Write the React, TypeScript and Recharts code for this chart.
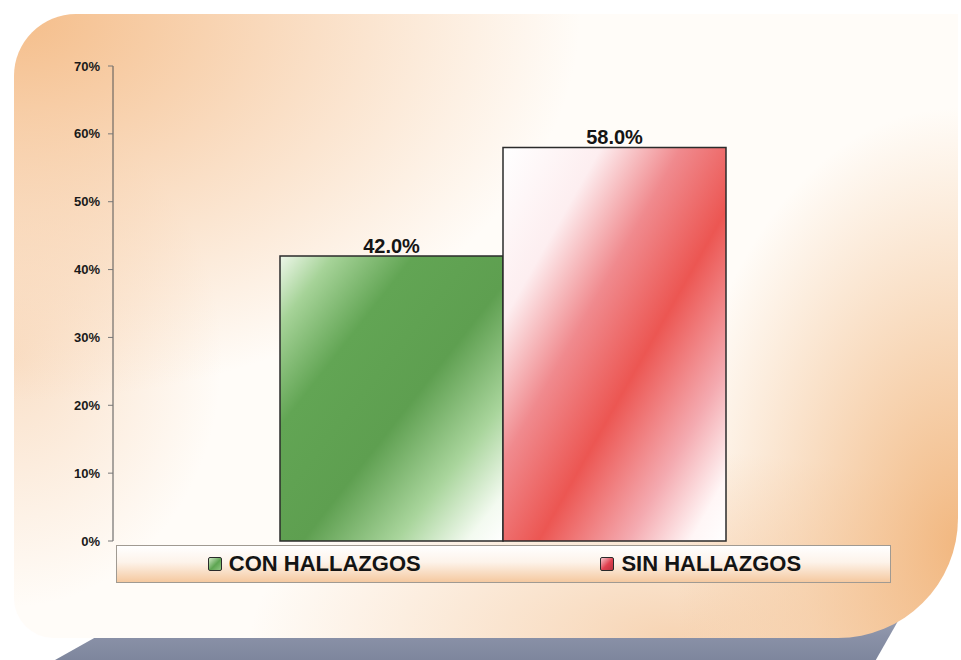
import { BarChart, Bar, XAxis, YAxis, Legend, LabelList } from 'recharts'

// values
const categories = ['Resultado']
const seriesNames = ['CON HALLAZGOS', 'SIN HALLAZGOS']
const conHallazgos = [42.0]
const sinHallazgos = [58.0]
const yTicks = [0, 10, 20, 30, 40, 50, 60, 70]

const data = categories.map((name, i) => ({
  name,
  con: conHallazgos[i],
  sin: sinHallazgos[i],
}))

const FONT = '"Liberation Sans", Arial, Helvetica, sans-serif'

const legendSwatches = [
  'linear-gradient(135deg, #cfe8c4 0%, #5ea552 55%, #8fc782 100%)',
  'linear-gradient(135deg, #f6c9cf 0%, #e0404f 55%, #b8323f 100%)',
]

const ChartLegend = () => (
  <div
    style={{
      width: '100%',
      height: '100%',
      boxSizing: 'border-box',
      border: '1px solid #a09a92',
      background: 'linear-gradient(to bottom, #ffffff 0%, #fdf3ea 45%, #f5c9a0 100%)',
      display: 'flex',
      alignItems: 'center',
    }}
  >
    {seriesNames.map((s, i) => (
      <div key={s} style={{ flex: 1, display: 'flex', justifyContent: 'center', alignItems: 'center', paddingLeft: i === 0 ? 8 : 8 }}>
        <span
          style={{
            display: 'inline-block',
            width: 12,
            height: 12,
            border: '1.5px solid #2a2a2a',
            borderRadius: 2,
            background: legendSwatches[i],
            marginRight: 7,
          }}
        />
        <span style={{ fontFamily: FONT, fontWeight: 'bold', fontSize: 22, color: '#141414' }}>{s}</span>
      </div>
    ))}
  </div>
)

export default function App() {
  return (
    <div style={{ position: 'absolute', left: 0, top: 0, width: 961, height: 660, overflow: 'hidden', background: '#ffffff' }}>
      {/* grey shadow strip under the card */}
      <div
        style={{
          position: 'absolute',
          left: 55,
          top: 600,
          width: 855,
          height: 60,
          background: 'linear-gradient(to bottom, #a3a9bb 0%, #8a91a7 60%, #7e869d 100%)',
          clipPath: 'polygon(5% 60%, 100% 0%, 96% 100%, 0% 100%)',
        }}
      />
      {/* scanned card */}
      <div
        style={{
          position: 'absolute',
          left: 14,
          top: 14,
          width: 944,
          height: 624,
          borderRadius: '62px 0 120px 40px',
          background: [
            'radial-gradient(ellipse 60% 62% at 0% 0%, rgba(244,186,132,0.95) 0%, rgba(246,200,158,0.6) 50%, rgba(250,225,200,0) 100%)',
            'radial-gradient(ellipse 30% 70% at 100% 85%, rgba(241,180,122,0.95) 0%, rgba(244,196,150,0.55) 55%, rgba(250,225,200,0) 100%)',
            'radial-gradient(ellipse 45% 30% at 70% 100%, rgba(243,195,150,0.7) 0%, rgba(250,225,200,0) 100%)',
            'radial-gradient(ellipse 22% 40% at 0% 55%, rgba(246,205,168,0.6) 0%, rgba(250,225,200,0) 100%)',
            '#fffcf8',
          ].join(', '),
        }}
      />
      <div style={{ position: 'absolute', left: 0, top: 0 }}>
        <BarChart
          width={961}
          height={660}
          data={data}
          margin={{ top: 66, right: 68, bottom: 119, left: 0 }}
          barCategoryGap={167}
          barGap={0}
        >
          <defs>
            <linearGradient id="gradCon" x1="0" y1="0" x2="1" y2="1">
              <stop offset="0%" stopColor="#eef7ea" />
              <stop offset="12%" stopColor="#a6d398" />
              <stop offset="30%" stopColor="#62a554" />
              <stop offset="55%" stopColor="#5e9f50" />
              <stop offset="76%" stopColor="#a9d59c" />
              <stop offset="92%" stopColor="#f3faf0" />
              <stop offset="100%" stopColor="#ffffff" />
            </linearGradient>
            <linearGradient id="gradSin" x1="0" y1="0" x2="1" y2="1">
              <stop offset="0%" stopColor="#ffffff" />
              <stop offset="22%" stopColor="#fdeef0" />
              <stop offset="40%" stopColor="#f08a8e" />
              <stop offset="58%" stopColor="#ec5652" />
              <stop offset="78%" stopColor="#f4aab0" />
              <stop offset="92%" stopColor="#fff6f6" />
              <stop offset="100%" stopColor="#ffffff" />
            </linearGradient>
          </defs>
          <XAxis
            dataKey="name"
            height={0}
            tick={false}
            tickLine={false}
            axisLine={{ stroke: '#8c8c8c', strokeWidth: 1.5 }}
          />
          <YAxis
            width={113}
            domain={[0, 70]}
            ticks={yTicks}
            tickFormatter={(v: number) => `${v}%`}
            tickSize={5}
            tickMargin={8}
            axisLine={{ stroke: '#555555' }}
            tickLine={{ stroke: '#777777' }}
            tick={{ fill: '#1a1a1a', fontSize: 13, fontWeight: 'bold', fontFamily: FONT }}
          />
          <Legend
            layout="horizontal"
            verticalAlign="middle"
            align="center"
            wrapperStyle={{ left: 116, top: 545, width: 775, height: 38 }}
            content={() => <ChartLegend />}
          />
          <Bar dataKey="con" name={seriesNames[0]} fill="url(#gradCon)" stroke="#2b2b2b" strokeWidth={1.5} isAnimationActive={false}>
            <LabelList
              dataKey="con"
              position="top"
              offset={3}
              formatter={(v: any) => `${Number(v).toFixed(1)}%`}
              fill="#151515"
              fontSize={20}
              fontWeight="bold"
              fontFamily={FONT}
            />
          </Bar>
          <Bar dataKey="sin" name={seriesNames[1]} fill="url(#gradSin)" stroke="#2b2b2b" strokeWidth={1.5} isAnimationActive={false}>
            <LabelList
              dataKey="sin"
              position="top"
              offset={3}
              formatter={(v: any) => `${Number(v).toFixed(1)}%`}
              fill="#151515"
              fontSize={20}
              fontWeight="bold"
              fontFamily={FONT}
            />
          </Bar>
        </BarChart>
      </div>
    </div>
  )
}
